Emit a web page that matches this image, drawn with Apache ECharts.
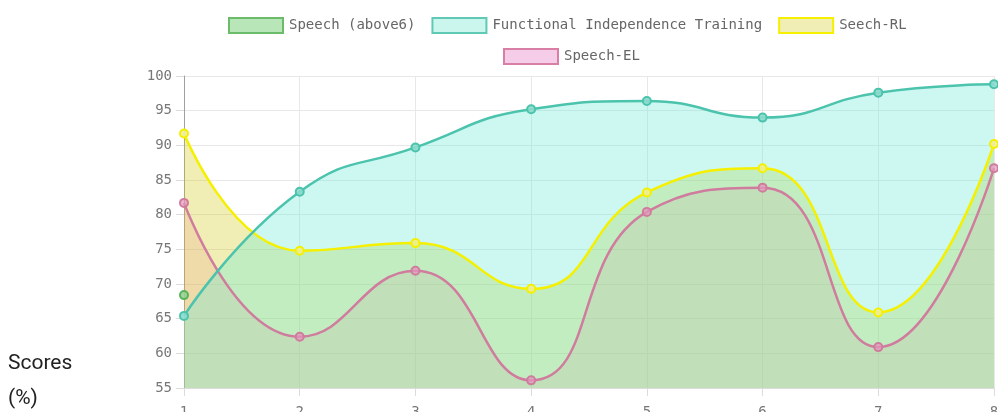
<!DOCTYPE html>
<html>
<head>
<meta charset="utf-8">
<title>Scores</title>
<script src="https://cdn.jsdelivr.net/npm/echarts@6/dist/echarts.min.js"></script>
<style>
  html, body { margin: 0; padding: 0; background: #fff; }
  #chart { width: 998px; height: 412px; }
</style>
</head>
<body>
<div id="chart"></div>
<script>
const categories = ["1", "2", "3", "4", "5", "6", "7", "8"];

const speechAbove6 = [68.4, "-", "-", "-", "-", "-", "-", "-"];
const functionalTraining = [65.4, 83.3, 89.7, 95.2, 96.4, 94.0, 97.6, 98.8];
const speechRL = [91.7, 74.8, 75.9, 69.3, 83.2, 86.7, 65.9, 90.2];
const speechEL = [81.7, 62.4, 71.9, 56.1, 80.4, 83.9, 60.9, 86.7];

const legendRow1 = ["Speech (above6)", "Functional Independence Training", "Seech-RL"];
const legendRow2 = ["Speech-EL"];

const monoFont = "DejaVu Sans Mono";

const chart = echarts.init(document.getElementById("chart"));

// series style helper, chart.js look: filled area + ringed points
const lineSeries = (name, data, line, point, fill) => ({
  name: name,
  type: "line",
  data: data,
  smooth: 0.5,
  symbol: "circle",
  symbolSize: 8,
  showAllSymbol: true,
  lineStyle: { color: line, width: 2.5 },
  itemStyle: { color: point, borderColor: line, borderWidth: 2 },
  areaStyle: fill ? { color: fill, opacity: 1, origin: "start" } : undefined,
  emphasis: { disabled: true }
});

const legendBase = {
  orient: "horizontal",
  icon: "rect",
  itemWidth: 54,
  itemHeight: 15,
  itemGap: 16,
  selectedMode: false,
  textStyle: { fontFamily: monoFont, fontSize: 14, color: "#666", padding: [0, 0, 0, 1] }
};

const legendItem = (name, fill, border) => ({
  name: name,
  itemStyle: { color: fill, borderColor: border, borderWidth: 2 }
});

const option = {
  animation: false,
  legend: [
    Object.assign({}, legendBase, {
      left: 223,
      top: 12,
      data: [
        legendItem(legendRow1[0], "#b9e6b9", "#6abb6a"),
        legendItem(legendRow1[1], "#caf6ee", "#5fc9b6"),
        legendItem(legendRow1[2], "#f0eeb4", "#f5f000")
      ]
    }),
    Object.assign({}, legendBase, {
      left: 498,
      top: 43,
      data: [legendItem(legendRow2[0], "#f5cde8", "#d97fa5")]
    })
  ],
  grid: { left: 184, right: 4, top: 76, bottom: 24, containLabel: false, outerBoundsMode: "none" },
  xAxis: {
    type: "category",
    data: categories,
    boundaryGap: false,
    axisLine: { show: true, lineStyle: { color: "#dcdcdc", width: 1 } },
    axisTick: { show: true, length: 8, lineStyle: { color: "#dcdcdc" } },
    axisLabel: { margin: 17, fontFamily: monoFont, fontSize: 14, color: "#777" },
    splitLine: { show: true, lineStyle: { color: "#e8e8e8" } }
  },
  yAxis: {
    type: "value",
    min: 55,
    max: 100,
    interval: 5,
    axisLine: { show: true, lineStyle: { color: "#a0a0a0", width: 1 } },
    axisTick: { show: true, length: 8, lineStyle: { color: "#dcdcdc" } },
    axisLabel: { margin: 12, fontFamily: monoFont, fontSize: 14, color: "#777" },
    splitLine: { show: true, lineStyle: { color: "#e8e8e8" } }
  },
  graphic: [
    {
      type: "text",
      left: 8,
      top: 346,
      style: {
        text: "Scores\n(%)",
        font: "21px Roboto",
        fill: "#222",
        lineHeight: 35
      }
    }
  ],
  // drawn bottom first so the first legend item ends up on top, like chart.js
  series: [
    lineSeries(legendRow2[0], speechEL, "#d07c9e", "rgba(230,150,190,0.7)", "rgba(245,120,180,0.2)"),
    lineSeries(legendRow1[2], speechRL, "#f5f000", "rgba(240,238,150,0.9)", "rgba(205,200,5,0.3)"),
    lineSeries(legendRow1[1], functionalTraining, "#4cc3ad", "rgba(140,220,205,0.9)", "rgba(110,235,215,0.35)"),
    lineSeries(legendRow1[0], speechAbove6, "#5cb35c", "rgba(150,210,150,0.9)", null)
  ]
};

chart.setOption(option);
</script>
</body>
</html>
